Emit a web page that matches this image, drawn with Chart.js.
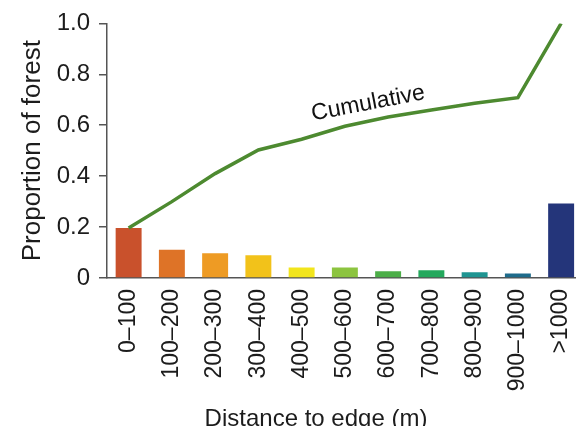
<!DOCTYPE html>
<html>
<head>
<meta charset="utf-8">
<script src="https://cdn.jsdelivr.net/npm/chart.js@4/dist/chart.umd.min.js"></script>
<style>
  html, body { margin: 0; padding: 0; background: #fff; overflow: hidden; width: 576px; height: 426px; }
  #wrap { position: relative; width: 600px; height: 426px; }
</style>
</head>
<body>
<div id="wrap"><canvas id="c"></canvas></div>
<script>
// Distance bands from the forest edge
const categories = ['0–100', '100–200', '200–300', '300–400', '400–500', '500–600',
                    '600–700', '700–800', '800–900', '900–1000', '>1000'];
// Proportion of forest in each band
const proportion = [0.196, 0.111, 0.097, 0.089, 0.041, 0.041, 0.027, 0.030, 0.023, 0.018, 0.293];
// Cumulative proportion curve
const cumulative = [0.196, 0.300, 0.410, 0.503, 0.545, 0.596, 0.632, 0.660, 0.686, 0.708, 1.000];
// Y axis ticks
const yTicks = [0, 0.2, 0.4, 0.6, 0.8, 1.0];

const barColors = ['#c9512c', '#de7327', '#ee9b24', '#f2c21a', '#f2e51c', '#8cc43f',
                   '#4cae48', '#23a85c', '#1f9592', '#1e6b8b', '#24357a'];

const FONT = '"Liberation Sans", Arial, Helvetica, sans-serif';
const AXIS = '#555555';
const TEXT = '#1c1c1c';

// Curve label and x-axis title
const annotations = {
  id: 'annotations',
  afterDatasetsDraw(chart) {
    const ctx = chart.ctx;
    const pts = chart.getDatasetMeta(1).data;
    const a = pts[4], b = pts[9];
    const angle = Math.atan2(b.y - a.y, b.x - a.x);
    const p = pts[5], q = pts[6];
    const mx = (p.x + q.x) / 2, my = (p.y + q.y) / 2;
    ctx.save();
    ctx.translate(mx, my);
    ctx.rotate(angle);
    ctx.fillStyle = '#111';
    ctx.font = '23px ' + FONT;
    ctx.textAlign = 'center';
    ctx.textBaseline = 'bottom';
    ctx.fillText('Cumulative', 5, -6);
    ctx.restore();

    const area = chart.chartArea;
    ctx.save();
    ctx.fillStyle = TEXT;
    ctx.font = '24px ' + FONT;
    ctx.textAlign = 'center';
    ctx.textBaseline = 'middle';
    ctx.fillText('Distance to edge (m)', area.left + 209, 419);
    ctx.restore();
  }
};

new Chart(document.getElementById('c'), {
  data: {
    labels: categories,
    datasets: [
      {
        type: 'bar',
        data: proportion,
        backgroundColor: barColors,
        borderWidth: 0,
        categoryPercentage: 1.0,
        barPercentage: 0.6,
        order: 2
      },
      {
        type: 'line',
        data: cumulative,
        borderColor: '#4d8a30',
        borderWidth: 3.5,
        pointRadius: 0,
        tension: 0,
        fill: false,
        order: 1
      }
    ]
  },
  options: {
    responsive: true,
    maintainAspectRatio: false,
    animation: false,
    layout: { padding: { top: 20, right: 6, bottom: 0, left: 0 } },
    plugins: { legend: { display: false }, tooltip: { enabled: false } },
    scales: {
      x: {
        offset: true,
        border: { display: true, color: AXIS, width: 1.5 },
        grid: { display: true, drawOnChartArea: false, drawTicks: false },
        ticks: {
          autoSkip: false, minRotation: 90, maxRotation: 90, padding: 11,
          color: TEXT, font: { family: FONT, size: 23 }
        },
        afterFit(scale) { scale.height = 148; }
      },
      y: {
        min: 0, max: 1,
        border: { display: true, color: AXIS, width: 1.5 },
        grid: { display: true, drawOnChartArea: false, drawTicks: true, tickLength: 8, color: AXIS, lineWidth: 1.5 },
        afterBuildTicks(scale) { scale.ticks = yTicks.map(v => ({ value: v })); },
        ticks: {
          padding: 9, color: TEXT, font: { family: FONT, size: 24 },
          callback: v => (v === 0 ? '0' : v.toFixed(1))
        },
        title: {
          display: true, text: 'Proportion of forest', color: TEXT,
          font: { family: FONT, size: 26 }, padding: { top: 17, bottom: 0 }
        },
        afterFit(scale) { scale.width = 107; }
      }
    }
  },
  plugins: [annotations]
});
</script>
</body>
</html>
